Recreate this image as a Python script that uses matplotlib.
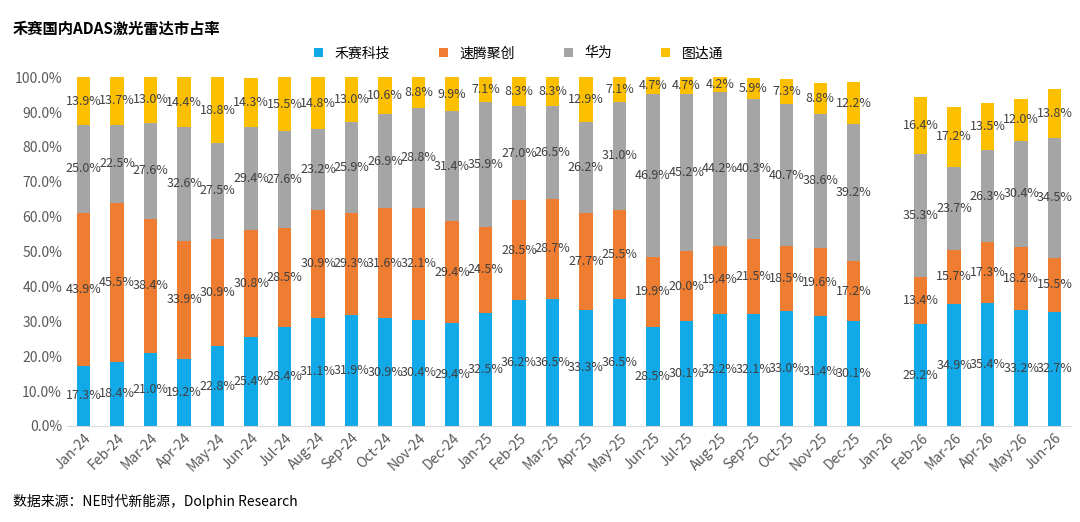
import numpy as np
import matplotlib.pyplot as plt
from matplotlib.ticker import PercentFormatter

plt.rcParams['font.family'] = ['Noto Sans CJK SC', 'DejaVu Sans']

months = ["Jan-24", "Feb-24", "Mar-24", "Apr-24", "May-24", "Jun-24", "Jul-24", "Aug-24",
          "Sep-24", "Oct-24", "Nov-24", "Dec-24", "Jan-25", "Feb-25", "Mar-25", "Apr-25",
          "May-25", "Jun-25", "Jul-25", "Aug-25", "Sep-25", "Oct-25", "Nov-25", "Dec-25",
          "Jan-26", "Feb-26", "Mar-26", "Apr-26", "May-26", "Jun-26"]
nan = np.nan
hesai = [17.3, 18.4, 21.0, 19.2, 22.8, 25.4, 28.4, 31.1, 31.9, 30.9, 30.4, 29.4,
         32.5, 36.2, 36.5, 33.3, 36.5, 28.5, 30.1, 32.2, 32.1, 33.0, 31.4, 30.1,
         nan, 29.2, 34.9, 35.4, 33.2, 32.7]
robosense = [43.9, 45.5, 38.4, 33.9, 30.9, 30.8, 28.5, 30.9, 29.3, 31.6, 32.1, 29.4,
             24.5, 28.5, 28.7, 27.7, 25.5, 19.9, 20.0, 19.4, 21.5, 18.5, 19.6, 17.2,
             nan, 13.4, 15.7, 17.3, 18.2, 15.5]
huawei = [25.0, 22.5, 27.6, 32.6, 27.5, 29.4, 27.6, 23.2, 25.9, 26.9, 28.8, 31.4,
          35.9, 27.0, 26.5, 26.2, 31.0, 46.9, 45.2, 44.2, 40.3, 40.7, 38.6, 39.2,
          nan, 35.3, 23.7, 26.3, 30.4, 34.5]
seyond = [13.9, 13.7, 13.0, 14.4, 18.8, 14.3, 15.5, 14.8, 13.0, 10.6, 8.8, 9.9,
          7.1, 8.3, 8.3, 12.9, 7.1, 4.7, 4.7, 4.2, 5.9, 7.3, 8.8, 12.2,
          nan, 16.4, 17.2, 13.5, 12.0, 13.8]

series = [("禾赛科技", hesai, "#12a9e8"),
          ("速腾聚创", robosense, "#ee7d31"),
          ("华为", huawei, "#a5a5a5"),
          ("图达通", seyond, "#fdc000")]

fig = plt.figure(figsize=(10.8, 5.22), dpi=100)
ax = fig.add_axes([0.062, 0.184, 0.93, 0.668])
x = np.arange(len(months))
bottom = np.zeros(len(months))
for name, vals, color in series:
    v = np.array(vals) / 100
    ax.bar(x, v, 0.4, bottom=bottom, color=color, label=name)
    for xi, b, h in zip(x, bottom, v):
        if np.isnan(h):
            continue
        ax.text(xi, b + h / 2, f"{h*100:.1f}%", ha="center", va="center",
                fontsize=9, color="#404040")
    bottom = bottom + np.nan_to_num(v)

ax.set_xlim(-0.5, len(months) - 0.5)
ax.set_ylim(0, 1.0)
ax.set_yticks(np.arange(0, 1.01, 0.1))
ax.yaxis.set_major_formatter(PercentFormatter(1.0, decimals=1))
ax.set_xticks(x)
ax.set_xticklabels(months, rotation=45, ha="right", rotation_mode="anchor")
ax.tick_params(axis="both", length=0, labelsize=10, colors="#595959")
for s in ["top", "right", "left"]:
    ax.spines[s].set_visible(False)
ax.spines["bottom"].set_color("#d9d9d9")

fig.legend(loc="upper center", bbox_to_anchor=(0.48, 0.935), ncol=4, frameon=False,
           fontsize=10, handlelength=0.7, handleheight=0.7, columnspacing=3.5)
fig.text(0.012, 0.935, "禾赛国内ADAS激光雷达市占率", fontsize=11, fontweight="bold")
fig.text(0.012, 0.03, "数据来源：NE时代新能源，Dolphin Research", fontsize=10)

fig.savefig("out.png", dpi=100)
